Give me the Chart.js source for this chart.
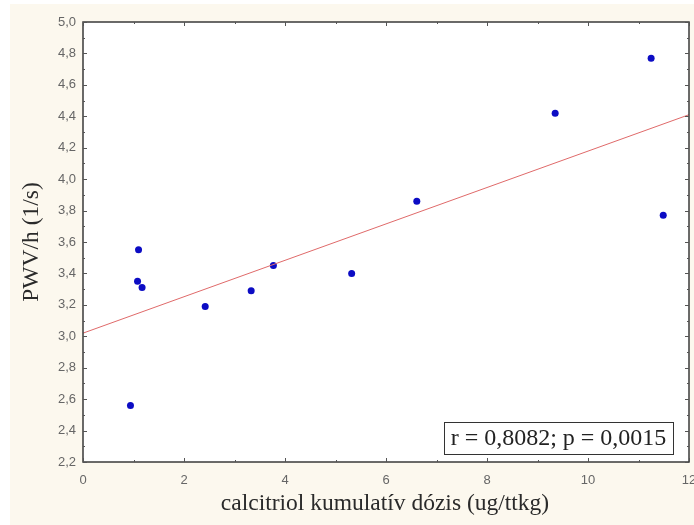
<!DOCTYPE html>
<html>
<head>
<meta charset="utf-8">
<script src="https://cdn.jsdelivr.net/npm/chart.js@4"></script>
<style>
  body { margin: 0; background: #fff; overflow: hidden; }
  canvas { display: block; }
</style>
</head>
<body>
<canvas id="myChart" width="694" height="525"></canvas>
<script>
// data
const doseValues = [0.94, 1.10, 1.08, 1.17, 2.42, 3.33, 3.77, 5.32, 6.61, 9.35, 11.25, 11.49];
const pwvValues = [2.56, 3.55, 3.35, 3.31, 3.19, 3.29, 3.45, 3.40, 3.86, 4.42, 4.77, 3.77];
const fitX = [0, 12];
const fitY = [3.02, 4.41];
const xTickValues = [0, 2, 4, 6, 8, 10, 12];
const yTickValues = [2.2, 2.4, 2.6, 2.8, 3.0, 3.2, 3.4, 3.6, 3.8, 4.0, 4.2, 4.4, 4.6, 4.8, 5.0];
const xTitle = 'calcitriol kumulatív dózis (ug/ttkg)';
const yTitle = 'PWV/h (1/s)';
const statText = 'r = 0,8082; p = 0,0015';

const pageBg = {
    id: 'pageBg',
    beforeDraw(chart) {
        const ctx = chart.ctx;
        const a = chart.chartArea;
        ctx.save();
        ctx.fillStyle = '#ffffff';
        ctx.fillRect(0, 0, chart.width, chart.height);
        ctx.fillStyle = '#fcf8ee';
        ctx.fillRect(10, 4, chart.width - 10, chart.height - 4);
        ctx.fillStyle = '#ffffff';
        ctx.fillRect(a.left, a.top, a.right - a.left, a.bottom - a.top);
        ctx.restore();
    }
};

const frameAndText = {
    id: 'frameAndText',
    afterDraw(chart) {
        const ctx = chart.ctx;
        const a = chart.chartArea;
        const xs = chart.scales.x;
        const ys = chart.scales.y;
        ctx.save();
        ctx.strokeStyle = '#3a3a3a';
        ctx.lineWidth = 1.5;
        ctx.strokeRect(a.left, a.top, a.right - a.left, a.bottom - a.top);

        // inward ticks, major + minor
        ctx.lineWidth = 1;
        ctx.strokeStyle = '#555';
        ctx.beginPath();
        for (let i = 0; i <= 12; i++) {
            const px = Math.round(xs.getPixelForValue(i)) + 0.5;
            const len = i % 2 === 0 ? 4 : 2;
            ctx.moveTo(px, a.bottom); ctx.lineTo(px, a.bottom - len);
            ctx.moveTo(px, a.top); ctx.lineTo(px, a.top + len);
        }
        for (let i = 0; i <= 28; i++) {
            const v = 2.2 + i * 0.1;
            const py = Math.round(ys.getPixelForValue(v)) + 0.5;
            const len = i % 2 === 0 ? 4 : 2;
            ctx.moveTo(a.left, py); ctx.lineTo(a.left + len, py);
            ctx.moveTo(a.right, py); ctx.lineTo(a.right - len, py);
        }
        ctx.stroke();

        // axis titles
        ctx.fillStyle = '#2a2a2a';
        ctx.font = '23.5px "Liberation Serif", "Times New Roman", serif';
        ctx.textAlign = 'center';
        ctx.textBaseline = 'middle';
        ctx.fillText(xTitle, (a.left + a.right) / 2 - 1, 504);
        ctx.save();
        ctx.translate(32, (a.top + a.bottom) / 2);
        ctx.rotate(-Math.PI / 2);
        ctx.fillText(yTitle, 0, 0);
        ctx.restore();

        // stat box
        const bx = 444, by = 422, bw = 229, bh = 32;
        ctx.fillStyle = '#ffffff';
        ctx.fillRect(bx, by, bw, bh);
        ctx.strokeStyle = '#333';
        ctx.lineWidth = 1;
        ctx.strokeRect(bx + 0.5, by + 0.5, bw, bh);
        ctx.font = '24px "Liberation Serif", "Times New Roman", serif';
        ctx.fillStyle = '#222';
        ctx.textAlign = 'center';
        ctx.fillText(statText, bx + bw / 2, by + bh / 2 + 1);
        ctx.restore();
    }
};

const ctx = document.getElementById('myChart').getContext('2d');
const myChart = new Chart(ctx, {
    type: 'scatter',
    data: {
        datasets: [
            {
                label: 'fit',
                type: 'line',
                data: fitX.map((x, i) => ({ x: x, y: fitY[i] })),
                borderColor: '#e06a6a',
                borderWidth: 1,
                pointRadius: 0,
                fill: false
            },
            {
                label: 'PWV/h',
                data: doseValues.map((x, i) => ({ x: x, y: pwvValues[i] })),
                backgroundColor: '#0c0cc4',
                borderColor: '#0c0cc4',
                pointRadius: 3.5,
                pointBorderWidth: 0
            }
        ]
    },
    options: {
        responsive: false,
        animation: false,
        layout: { padding: { top: 22, right: 5, left: 0, bottom: 0 } },
        plugins: {
            legend: { display: false },
            tooltip: { enabled: false }
        },
        scales: {
            x: {
                type: 'linear',
                min: 0,
                max: 12,
                afterBuildTicks: s => { s.ticks = xTickValues.map(v => ({ value: v })); },
                afterFit: s => { s.height = 63; s.paddingLeft = 0; s.paddingRight = 0; },
                grid: { display: false, drawTicks: false },
                border: { display: false },
                ticks: {
                    padding: 11,
                    color: '#666',
                    font: { family: 'Liberation Sans, Arial, sans-serif', size: 13 },
                    callback: v => String(v)
                }
            },
            y: {
                type: 'linear',
                min: 2.2,
                max: 5.0,
                afterBuildTicks: s => { s.ticks = yTickValues.map(v => ({ value: v })); },
                afterFit: s => { s.width = 83; s.paddingTop = 0; s.paddingBottom = 0; },
                grid: { display: false, drawTicks: false },
                border: { display: false },
                ticks: {
                    padding: 7,
                    color: '#666',
                    font: { family: 'Liberation Sans, Arial, sans-serif', size: 13 },
                    callback: v => v.toFixed(1).replace('.', ',')
                }
            }
        }
    },
    plugins: [pageBg, frameAndText]
});
</script>
</body>
</html>
